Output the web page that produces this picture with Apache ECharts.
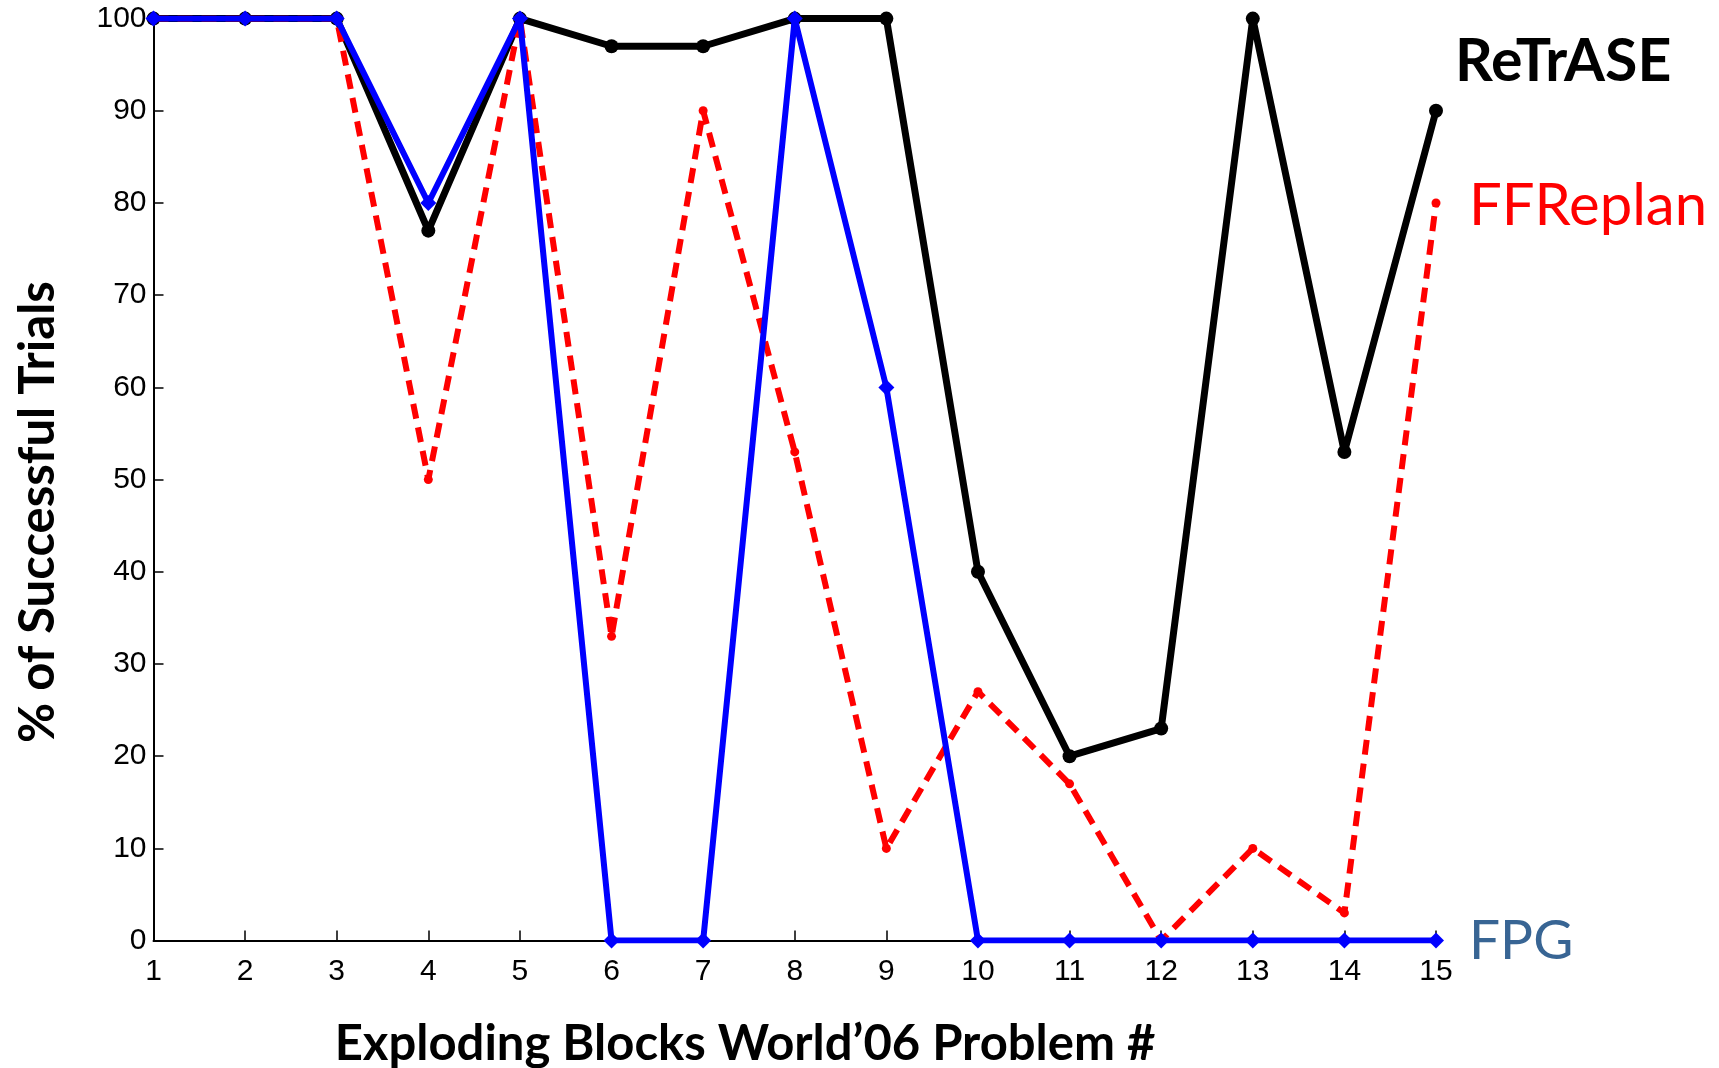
<!DOCTYPE html>
<html><head><meta charset="utf-8">
<script src="https://cdn.jsdelivr.net/npm/echarts@6/dist/echarts.min.js"></script>
<style>html,body{margin:0;padding:0;background:#fff}#c{width:1719px;height:1068px}</style>
</head><body><div id="c"></div>
<script>
const problems = [1,2,3,4,5,6,7,8,9,10,11,12,13,14,15];
const retrase  = [100,100,100,77,100,97,97,100,100,40,20,23,100,53,90];
const ffreplan = [100,100,100,50,100,33,90,53,10,27,17,0,10,3,80];
const fpg      = [100,100,100,80,100,0,0,100,60,0,0,0,0,0,0];
const yTicks = [0,10,20,30,40,50,60,70,80,90,100];
const seriesNames = ['ReTrASE','FFReplan','FPG'];
const xTitle = 'Exploding Blocks World\u201906 Problem #';
const yTitle = '% of Successful Trials';

const pairs = arr => problems.map((p,i)=>[p,arr[i]]);
const chart = echarts.init(document.getElementById('c'));
const tickFont = {fontFamily:'Liberation Sans', fontSize:30, color:'#000'};
chart.setOption({
  animation:false,
  backgroundColor:'#fff',
  grid:{left:153.5, right:283, top:18.6, bottom:127.4, containLabel:false, outerBoundsMode:'none'},
  xAxis:{type:'value', min:1, max:15, interval:1,
    axisLine:{show:true, onZero:false, lineStyle:{color:'#000', width:2}},
    axisTick:{show:true, inside:true, length:10, lineStyle:{color:'#000', width:1.5}},
    axisLabel:Object.assign({margin:16}, tickFont),
    splitLine:{show:false}
  },
  yAxis:{type:'value', min:0, max:100, interval:10,
    axisLine:{show:true, lineStyle:{color:'#000', width:2}},
    axisTick:{show:true, inside:true, length:10, lineStyle:{color:'#000', width:1.5}},
    axisLabel:Object.assign({margin:7, formatter:v=>yTicks.includes(v)?String(v):''}, tickFont),
    splitLine:{show:false}
  },
  series:[
    {name:seriesNames[0], type:'line', data:pairs(retrase), z:2,
      symbol:'circle', symbolSize:14, itemStyle:{color:'#000'},
      lineStyle:{color:'#000', width:7}},
    {name:seriesNames[1], type:'line', data:pairs(ffreplan), z:3,
      symbol:'circle', symbolSize:9, itemStyle:{color:'#ff0000'},
      lineStyle:{color:'#ff0000', width:6, type:[15,9]}},
    {name:seriesNames[2], type:'line', data:pairs(fpg), z:4,
      symbol:'diamond', symbolSize:16, itemStyle:{color:'#0000ff'},
      lineStyle:{color:'#0000ff', width:6}}
  ],
  graphic:[
    {type:'text', x:1455, y:62, style:{text:seriesNames[0], fontFamily:'Lato', fontWeight:'bold', fontSize:59, fill:'#000', textVerticalAlign:'middle'}},
    {type:'text', x:1469, y:206, style:{text:seriesNames[1], fontFamily:'Lato', fontSize:58, fill:'#ff0000', textVerticalAlign:'middle'}},
    {type:'text', x:1469, y:941, style:{text:seriesNames[2], fontFamily:'Lato', fontSize:55, fill:'#386594', textVerticalAlign:'middle'}},
    {type:'text', x:745, y:1044, style:{text:xTitle, fontFamily:'Lato', fontWeight:'bold', fontSize:49, fill:'#000', textAlign:'center', textVerticalAlign:'middle'}},
    {type:'text', x:38, y:512, rotation:Math.PI/2, style:{text:yTitle, fontFamily:'Lato', fontWeight:'bold', fontSize:49, fill:'#000', textAlign:'center', textVerticalAlign:'middle'}}
  ]
});
</script></body></html>
